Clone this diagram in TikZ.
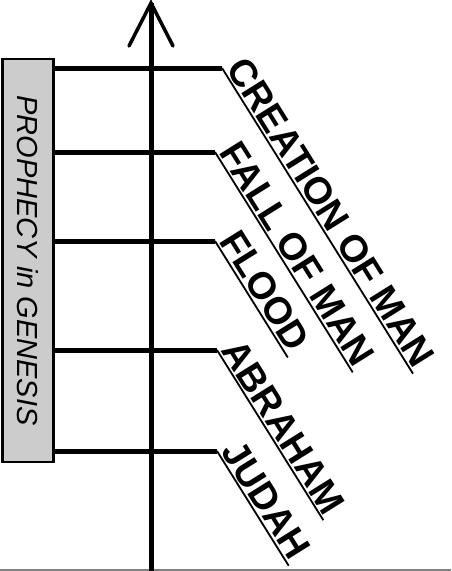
\documentclass[tikz,border=0pt]{standalone}
\usepackage{fontspec}
\newfontfamily\arialfont{Liberation Sans}
\usetikzlibrary{positioning,calc}

\begin{document}
\begin{tikzpicture}[
    x=1pt, y=-1pt,
    axis/.style={line width=5pt, black},
    arm/.style={line width=3.5pt, black, line cap=round},
    tick/.style={line width=5pt, black},
    uline/.style={line width=1.8pt, black},
    evt/.style={rotate=-58, anchor=south west, inner xsep=2pt, inner ysep=2.5pt, font=\arialfont\bfseries\fontsize{38}{40}\selectfont},
    pbox/.style={rectangle, draw, line width=2.5pt, fill=gray!40, minimum width=51pt, minimum height=403pt, inner sep=0pt}
]
    \useasboundingbox (0,0) rectangle (451,571);
    % frame edge at the bottom
    \draw[gray, line width=1.5pt] (0,570) -- (451,570);
    % time axis
    \coordinate (axbot) at (151,571);
    \coordinate (axtop) at (151,3);
    \coordinate (armL) at (129,46);
    \coordinate (armR) at (173,46);
    \draw[axis] (axbot) -- (axtop);
    \draw[arm] (armL) -- (axtop) -- (armR);
    % prophecy box
    \node[pbox] (box) at (28,260.5) {};
    \node[rotate=-90, font=\arialfont\itshape\fontsize{29}{30}\selectfont] (boxlbl) at (box.center) {PROPHECY in GENESIS};
    % events
    \coordinate (c1) at (222,68);
    \coordinate (c2) at (215,152);
    \coordinate (c3) at (215,241);
    \coordinate (c4) at (217,350);
    \coordinate (c5) at (217,451);
    \node[evt] (creation) at (c1) {CREATION OF MAN};
    \node[evt] (fall) at (c2) {FALL OF MAN};
    \node[evt] (flood) at (c3) {FLOOD};
    \node[evt] (abraham) at (c4) {ABRAHAM};
    \node[evt] (judah) at (c5) {JUDAH};
    \draw[tick] (box.east |- c1) -- (c1);
    \draw[tick] (box.east |- c2) -- (c2);
    \draw[tick] (box.east |- c3) -- (c3);
    \draw[tick] (box.east |- c4) -- (c4);
    \draw[tick] (box.east |- c5) -- (c5);
    \draw[uline] (c1) -- (creation.south east);
    \draw[uline] (c2) -- (fall.south east);
    \draw[uline] (c3) -- (flood.south east);
    \draw[uline] (c4) -- (abraham.south east);
    \draw[uline] (c5) -- (judah.south east);
\end{tikzpicture}
\end{document}
